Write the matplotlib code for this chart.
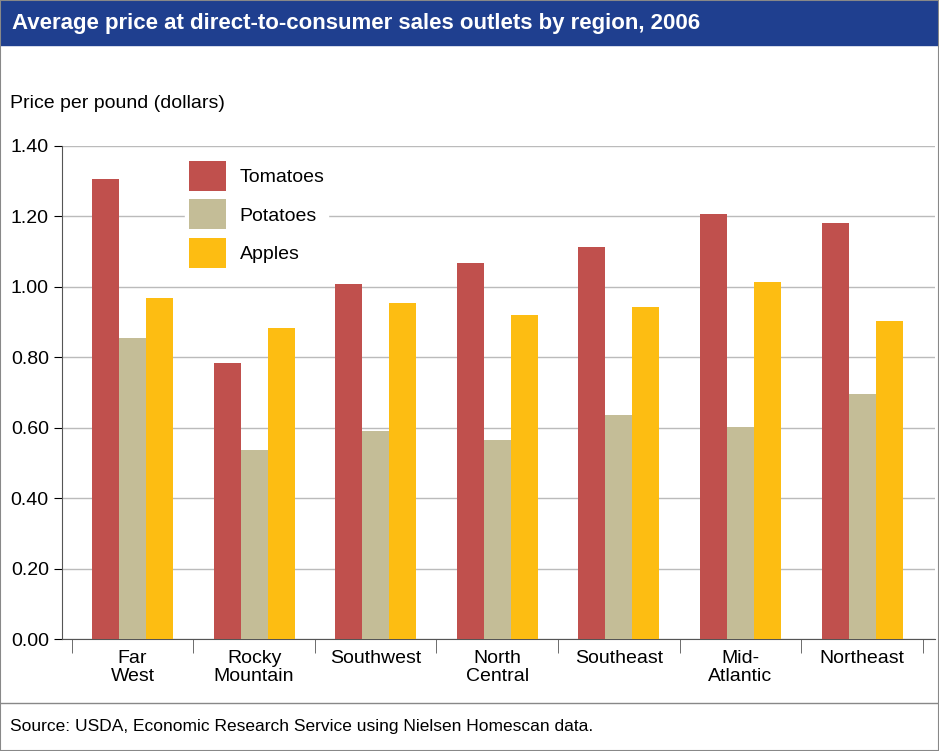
import matplotlib.pyplot as plt
import numpy as np

regions = ["Far\nWest", "Rocky\nMountain", "Southwest", "North\nCentral", "Southeast", "Mid-\nAtlantic", "Northeast"]
tomatoes = [1.307, 0.784, 1.008, 1.068, 1.113, 1.207, 1.180]
potatoes = [0.855, 0.538, 0.591, 0.565, 0.637, 0.603, 0.697]
apples = [0.969, 0.883, 0.955, 0.921, 0.943, 1.015, 0.903]
yticks = [0.0, 0.2, 0.4, 0.6, 0.8, 1.0, 1.2, 1.4]

plt.rcParams['font.family'] = ['Liberation Sans', 'DejaVu Sans']
fig = plt.figure(figsize=(9.39, 7.51), dpi=100)
ax = fig.add_axes([62/939, 1-639/751, 873/939, 493/751])

x = np.arange(len(regions))
w = 0.222
ax.bar(x - w, tomatoes, w, color='#c0504d', label='Tomatoes', zorder=3)
ax.bar(x, potatoes, w, color='#c4bd97', label='Potatoes', zorder=3)
ax.bar(x + w, apples, w, color='#fdbd12', label='Apples', zorder=3)

ax.set_xlim(-0.58, 6.6)
ax.set_ylim(0, 1.4)
ax.set_yticks(yticks)
ax.set_yticklabels([f"{v:.2f}" for v in yticks], fontsize=14)
ax.yaxis.grid(True, color='#bbbbbb', linewidth=1, zorder=0)
ax.set_xticks(x)
ax.set_xticklabels(regions, fontsize=14, linespacing=1.1)
ax.tick_params(axis='x', length=0, pad=8)
ax.tick_params(axis='y', length=6, direction='out')
ax.set_xticks(np.arange(len(regions) + 1) - 0.5, minor=True)
ax.tick_params(axis='x', which='minor', length=10, color='#555555')
for s in ['top', 'right']:
    ax.spines[s].set_visible(False)
for s in ['left', 'bottom']:
    ax.spines[s].set_color('#555555')

leg = ax.legend(loc='upper left', bbox_to_anchor=(0.13, 0.998), fontsize=14, frameon=True,
                fancybox=False, edgecolor='white', framealpha=1, handlelength=1.9,
                handleheight=2.0, labelspacing=0.45, borderpad=0.2, handletextpad=0.7)
leg.set_zorder(4)

fig.patches.append(plt.Rectangle((0, 1-45/751), 1, 45/751, transform=fig.transFigure,
                                 color='#1f3f8f', zorder=0))
fig.text(12/939, 1-24/751, "Average price at direct-to-consumer sales outlets by region, 2006",
         color='white', fontsize=16, fontweight='bold', va='center')
fig.text(10/939, 1-103/751, "Price per pound (dollars)", fontsize=14, va='center')
fig.add_artist(plt.Line2D([0, 1], [1-703/751, 1-703/751], color='#888888', linewidth=1))
fig.text(10/939, 1-727/751, "Source: USDA, Economic Research Service using Nielsen Homescan data.",
         fontsize=12.5, va='center')
fig.patches.append(plt.Rectangle((0, 0), 1, 1, transform=fig.transFigure, fill=False,
                                 edgecolor='#888888', linewidth=1.5))
fig.savefig('out.png', dpi=100)
